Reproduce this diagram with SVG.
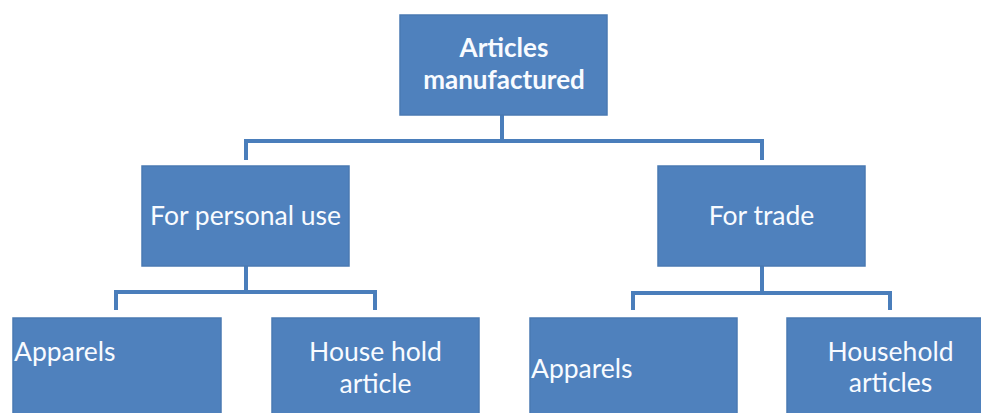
<svg xmlns="http://www.w3.org/2000/svg" width="981" height="413" viewBox="0 0 981 413">
<style>
.box{fill:#4f81bd;stroke:#4a7ab3;stroke-width:1.5}
.t{font-family:"Lato","Open Sans",sans-serif;font-size:26.5px;fill:#f8fbff}
.b{font-weight:bold;font-size:26px}
.c{fill:none;stroke:#4a7ebb;stroke-width:4}
</style>
<rect width="981" height="413" fill="#ffffff"/>
<g id="connectors">
<path class="c" d="M502 115V141M246 160V141H762V160"/>
<path class="c" d="M246 266V292M116 310V292H375V310"/>
<path class="c" d="M762 266V293M633 310V293H890V310"/>
</g>
<g id="n-root">
<rect class="box" x="400" y="15" width="207" height="100"/>
<text class="t b" x="504" y="57" text-anchor="middle">Articles</text>
<text class="t b" x="504" y="89" text-anchor="middle">manufactured</text>
</g>
<g id="n-personal">
<rect class="box" x="142" y="166" width="207" height="100"/>
<text class="t" x="245.5" y="225" text-anchor="middle">For personal use</text>
</g>
<g id="n-trade">
<rect class="box" x="658" y="166" width="207" height="100"/>
<text class="t" x="761.5" y="225" text-anchor="middle">For trade</text>
</g>
<g id="n-apparels1">
<rect class="box" x="13" y="318" width="208" height="110"/>
<text class="t" x="14" y="361">Apparels</text>
</g>
<g id="n-household1">
<rect class="box" x="272" y="318" width="207" height="110"/>
<text class="t" x="375.5" y="361" text-anchor="middle">House hold</text>
<text class="t" x="375.5" y="393" text-anchor="middle">article</text>
</g>
<g id="n-apparels2">
<rect class="box" x="530" y="318" width="207" height="110"/>
<text class="t" x="531" y="378">Apparels</text>
</g>
<g id="n-household2">
<rect class="box" x="787" y="318" width="207" height="110"/>
<text class="t" x="890.5" y="361" text-anchor="middle">Household</text>
<text class="t" x="890.5" y="392" text-anchor="middle">articles</text>
</g>
</svg>
